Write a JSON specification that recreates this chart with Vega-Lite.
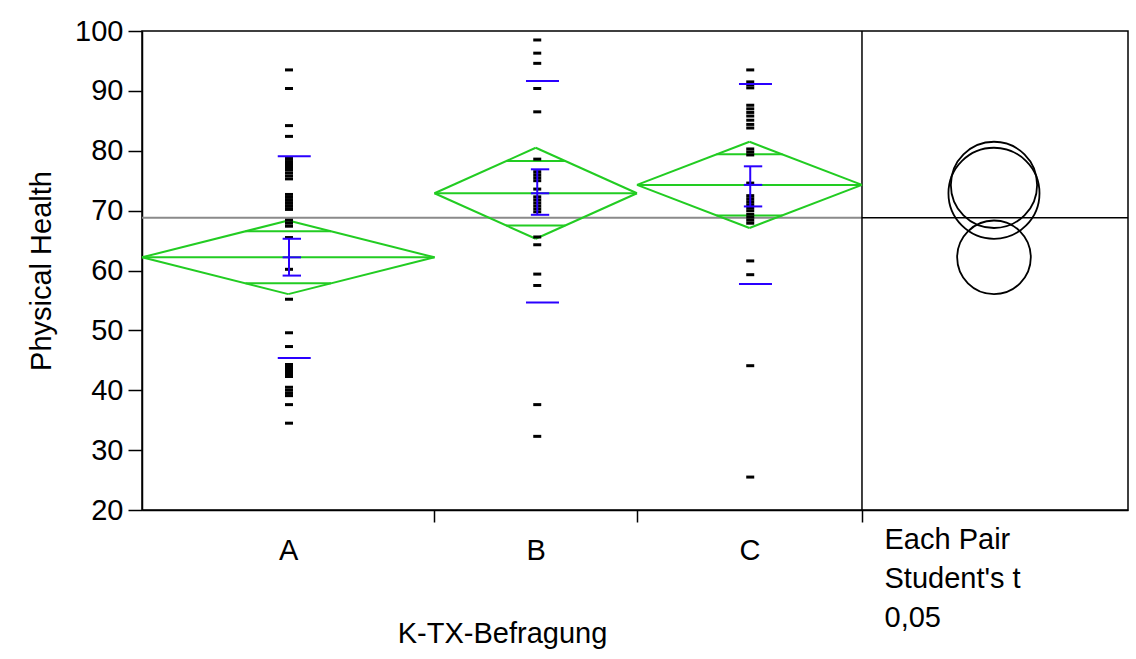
{
  "$schema": "https://vega.github.io/schema/vega-lite/v6.json",
  "autosize": {"type": "none"},
  "width": 986,
  "height": 479,
  "padding": {"left": 142, "top": 31, "right": 8, "bottom": 149},
  "background": "white",
  "config": {
    "font": "Liberation Sans",
    "view": {"stroke": "black", "strokeWidth": 1.5},
    "axis": {"grid": false, "domainColor": "black", "domainWidth": 1.5, "tickColor": "black", "tickWidth": 1.5, "labelColor": "black", "titleColor": "black", "labelFontSize": 29, "titleFontSize": 29, "titleFontWeight": "normal"}
  },
  "resolve": {"scale": {"x": "shared", "y": "shared"}, "axis": {"x": "independent", "y": "shared"}},
  "datasets": {
    "pts": [
      {"g":"A","x":19.6,"v":93.5},{"g":"A","x":19.6,"v":90.4},{"g":"A","x":19.6,"v":84.2},{"g":"A","x":19.6,"v":82.4},
      {"g":"A","x":19.6,"v":78.7},{"g":"A","x":19.6,"v":78.2},{"g":"A","x":19.6,"v":77.7},{"g":"A","x":19.6,"v":77.2},
      {"g":"A","x":19.6,"v":76.8},{"g":"A","x":19.6,"v":76.3},{"g":"A","x":19.6,"v":75.8},{"g":"A","x":19.6,"v":75.3},
      {"g":"A","x":19.6,"v":72.7},{"g":"A","x":19.6,"v":72.2},{"g":"A","x":19.6,"v":71.7},{"g":"A","x":19.6,"v":71.2},
      {"g":"A","x":19.6,"v":70.7},{"g":"A","x":19.6,"v":70.2},{"g":"A","x":19.6,"v":68.4},{"g":"A","x":19.6,"v":67.9},
      {"g":"A","x":19.6,"v":67.4},{"g":"A","x":19.6,"v":65.5},{"g":"A","x":19.6,"v":60.2},{"g":"A","x":19.6,"v":55.2},
      {"g":"A","x":19.6,"v":49.6},{"g":"A","x":19.6,"v":47.3},{"g":"A","x":19.6,"v":44.3},{"g":"A","x":19.6,"v":43.8},
      {"g":"A","x":19.6,"v":43.3},{"g":"A","x":19.6,"v":42.8},{"g":"A","x":19.6,"v":42.3},{"g":"A","x":19.6,"v":40.5},
      {"g":"A","x":19.6,"v":40.0},{"g":"A","x":19.6,"v":39.5},{"g":"A","x":19.6,"v":39.1},{"g":"A","x":19.6,"v":37.6},
      {"g":"A","x":19.6,"v":34.5},
      {"g":"B","x":52.7,"v":98.5},{"g":"B","x":52.7,"v":96.3},{"g":"B","x":52.7,"v":94.6},{"g":"B","x":52.7,"v":90.4},
      {"g":"B","x":52.7,"v":86.5},{"g":"B","x":52.7,"v":78.6},{"g":"B","x":52.7,"v":76.5},{"g":"B","x":52.7,"v":76.0},
      {"g":"B","x":52.7,"v":75.5},{"g":"B","x":52.7,"v":75.0},{"g":"B","x":52.7,"v":73.6},{"g":"B","x":52.7,"v":72.3},
      {"g":"B","x":52.7,"v":71.8},{"g":"B","x":52.7,"v":71.3},{"g":"B","x":52.7,"v":70.8},{"g":"B","x":52.7,"v":70.3},
      {"g":"B","x":52.7,"v":69.8},{"g":"B","x":52.7,"v":65.6},{"g":"B","x":52.7,"v":64.3},{"g":"B","x":52.7,"v":59.4},
      {"g":"B","x":52.7,"v":57.5},{"g":"B","x":52.7,"v":37.6},{"g":"B","x":52.7,"v":32.3},
      {"g":"C","x":81.1,"v":93.5},{"g":"C","x":81.1,"v":91.5},{"g":"C","x":81.1,"v":91.0},{"g":"C","x":81.1,"v":90.5},
      {"g":"C","x":81.1,"v":87.6},{"g":"C","x":81.1,"v":87.0},{"g":"C","x":81.1,"v":86.4},{"g":"C","x":81.1,"v":85.8},
      {"g":"C","x":81.1,"v":85.1},{"g":"C","x":81.1,"v":84.4},{"g":"C","x":81.1,"v":83.8},{"g":"C","x":81.1,"v":80.3},
      {"g":"C","x":81.1,"v":79.8},{"g":"C","x":81.1,"v":79.3},{"g":"C","x":81.1,"v":74.6},{"g":"C","x":81.1,"v":72.5},
      {"g":"C","x":81.1,"v":72.0},{"g":"C","x":81.1,"v":71.5},{"g":"C","x":81.1,"v":71.0},{"g":"C","x":81.1,"v":70.5},
      {"g":"C","x":81.1,"v":70.0},{"g":"C","x":81.1,"v":69.4},{"g":"C","x":81.1,"v":68.9},{"g":"C","x":81.1,"v":68.4},
      {"g":"C","x":81.1,"v":67.9},{"g":"C","x":81.1,"v":61.6},{"g":"C","x":81.1,"v":59.3},{"g":"C","x":81.1,"v":44.1},
      {"g":"C","x":81.1,"v":25.5}
    ],
    "segs": [
      {"k":"d","x":0,"x2":19.5,"y":62.2,"y2":68.35},{"k":"d","x":19.5,"x2":39,"y":68.35,"y2":62.2},
      {"k":"d","x":39,"x2":19.5,"y":62.2,"y2":56.05},{"k":"d","x":19.5,"x2":0,"y":56.05,"y2":62.2},
      {"k":"d","x":0,"x2":39,"y":62.2,"y2":62.2},
      {"k":"d","x":13.8,"x2":25.2,"y":66.55,"y2":66.55},{"k":"d","x":13.8,"x2":25.2,"y":57.85,"y2":57.85},
      {"k":"d","x":39,"x2":52.5,"y":72.9,"y2":80.5},{"k":"d","x":52.5,"x2":66,"y":80.5,"y2":72.9},
      {"k":"d","x":66,"x2":52.5,"y":72.9,"y2":65.3},{"k":"d","x":52.5,"x2":39,"y":65.3,"y2":72.9},
      {"k":"d","x":39,"x2":66,"y":72.9,"y2":72.9},
      {"k":"d","x":48.55,"x2":56.45,"y":78.27,"y2":78.27},{"k":"d","x":48.55,"x2":56.45,"y":67.53,"y2":67.53},
      {"k":"d","x":66,"x2":81,"y":74.3,"y2":81.5},{"k":"d","x":81,"x2":96,"y":81.5,"y2":74.3},
      {"k":"d","x":96,"x2":81,"y":74.3,"y2":67.1},{"k":"d","x":81,"x2":66,"y":67.1,"y2":74.3},
      {"k":"d","x":66,"x2":96,"y":74.3,"y2":74.3},
      {"k":"d","x":76.6,"x2":85.4,"y":79.4,"y2":79.4},{"k":"d","x":76.6,"x2":85.4,"y":69.2,"y2":69.2},
      {"k":"s","x":18.1,"x2":22.5,"y":79.1,"y2":79.1},{"k":"s","x":18.1,"x2":22.5,"y":45.4,"y2":45.4},
      {"k":"s","x":19.6,"x2":19.6,"y":59.15,"y2":65.3},
      {"k":"s","x":18.75,"x2":21.2,"y":65.3,"y2":65.3},{"k":"s","x":18.75,"x2":21.2,"y":62.2,"y2":62.2},{"k":"s","x":18.75,"x2":21.2,"y":59.15,"y2":59.15},
      {"k":"s","x":51.2,"x2":55.6,"y":91.65,"y2":91.65},{"k":"s","x":51.2,"x2":55.6,"y":54.65,"y2":54.65},
      {"k":"s","x":52.7,"x2":52.7,"y":69.3,"y2":76.9},
      {"k":"s","x":51.85,"x2":54.3,"y":76.9,"y2":76.9},{"k":"s","x":51.85,"x2":54.3,"y":72.9,"y2":72.9},{"k":"s","x":51.85,"x2":54.3,"y":69.3,"y2":69.3},
      {"k":"s","x":79.6,"x2":84.0,"y":91.15,"y2":91.15},{"k":"s","x":79.6,"x2":84.0,"y":57.75,"y2":57.75},
      {"k":"s","x":81.1,"x2":81.1,"y":70.7,"y2":77.4},
      {"k":"s","x":80.25,"x2":82.7,"y":77.4,"y2":77.4},{"k":"s","x":80.25,"x2":82.7,"y":74.3,"y2":74.3},{"k":"s","x":80.25,"x2":82.7,"y":70.7,"y2":70.7}
    ],
    "circles": [
      {"g":"A","mean":62.2,"ci":6.15},
      {"g":"B","mean":72.9,"ci":7.6},
      {"g":"C","mean":74.3,"ci":7.2}
    ]
  },
  "layer": [
    {
      "data": {"values": [{}]},
      "mark": {"type": "rule", "color": "#8a8a8a", "strokeWidth": 2},
      "encoding": {
        "x": {"datum": 0, "type": "quantitative", "axis": null},
        "x2": {"datum": 96},
        "y": {"datum": 68.8, "type": "quantitative"}
      }
    },
    {
      "data": {"values": [{}]},
      "mark": {"type": "rule", "color": "black", "strokeWidth": 1.5},
      "encoding": {
        "x": {"datum": 96, "type": "quantitative", "axis": null},
        "x2": {"datum": 131.47},
        "y": {"datum": 68.8, "type": "quantitative"}
      }
    },
    {
      "data": {"values": [{}]},
      "mark": {"type": "rule", "color": "black", "strokeWidth": 1.5},
      "encoding": {
        "x": {"datum": 96, "type": "quantitative", "axis": null},
        "y": {"datum": 20, "type": "quantitative"},
        "y2": {"datum": 100}
      }
    },
    {
      "data": {"name": "segs"},
      "transform": [{"filter": "datum.k == 'd'"}],
      "mark": {"type": "rule", "color": "#22cc22", "strokeWidth": 2},
      "encoding": {
        "x": {"field": "x", "type": "quantitative", "axis": null},
        "x2": {"field": "x2"},
        "y": {"field": "y", "type": "quantitative"},
        "y2": {"field": "y2"}
      }
    },
    {
      "data": {"name": "pts"},
      "mark": {"type": "tick", "orient": "horizontal", "thickness": 3, "size": 8, "color": "black", "opacity": 1},
      "encoding": {
        "x": {
          "field": "x", "type": "quantitative",
          "scale": {"domain": [0, 131.47], "nice": false, "zero": false},
          "axis": {
            "orient": "bottom",
            "values": [19.5, 39, 52.5, 66, 81, 96],
            "labelExpr": "datum.value == 19.5 ? 'A' : datum.value == 52.5 ? 'B' : datum.value == 81 ? 'C' : ''",
            "labelFlush": false, "labelOverlap": false,
            "tickSize": 12,
            "tickOpacity": {"condition": {"test": "datum.value == 39 || datum.value == 66 || datum.value == 96", "value": 1}, "value": 0},
            "labelBaseline": "alphabetic", "labelPadding": 37,
            "title": "K-TX-Befragung", "titleX": 360, "titleY": 132, "titleAlign": "center", "titleBaseline": "alphabetic"
          }
        },
        "y": {
          "field": "v", "type": "quantitative",
          "scale": {"domain": [20, 100], "nice": false, "zero": false},
          "axis": {
            "orient": "left",
            "values": [20, 30, 40, 50, 60, 70, 80, 90, 100],
            "tickSize": 14, "labelPadding": 5,
            "title": "Physical Health", "titleAngle": -90, "titleX": -92, "titleY": 239.5, "titleAlign": "center", "titleBaseline": "alphabetic"
          }
        }
      }
    },
    {
      "data": {"name": "segs"},
      "transform": [{"filter": "datum.k == 's'"}],
      "mark": {"type": "rule", "color": "#2a00ff", "strokeWidth": 2},
      "encoding": {
        "x": {"field": "x", "type": "quantitative", "axis": null},
        "x2": {"field": "x2"},
        "y": {"field": "y", "type": "quantitative"},
        "y2": {"field": "y2"}
      }
    },
    {
      "data": {"name": "circles"},
      "mark": {"type": "point", "shape": "circle", "filled": false, "stroke": "black", "strokeWidth": 1.8, "opacity": 1},
      "encoding": {
        "x": {
          "datum": 113.6, "type": "quantitative",
          "axis": {
            "orient": "bottom", "labels": false, "ticks": false, "domain": false,
            "title": ["Each Pair", "Student's t", "\u20050,05"],
            "titleX": 742, "titleY": 38, "titleAlign": "left", "titleAnchor": "start", "titleBaseline": "alphabetic", "titleLineHeight": 39
          }
        },
        "y": {"field": "mean", "type": "quantitative"},
        "size": {"field": "ci", "type": "quantitative", "scale": {"type": "pow", "exponent": 2, "domain": [0, 10], "range": [0, 14352]}, "legend": null}
      }
    }
  ]
}
